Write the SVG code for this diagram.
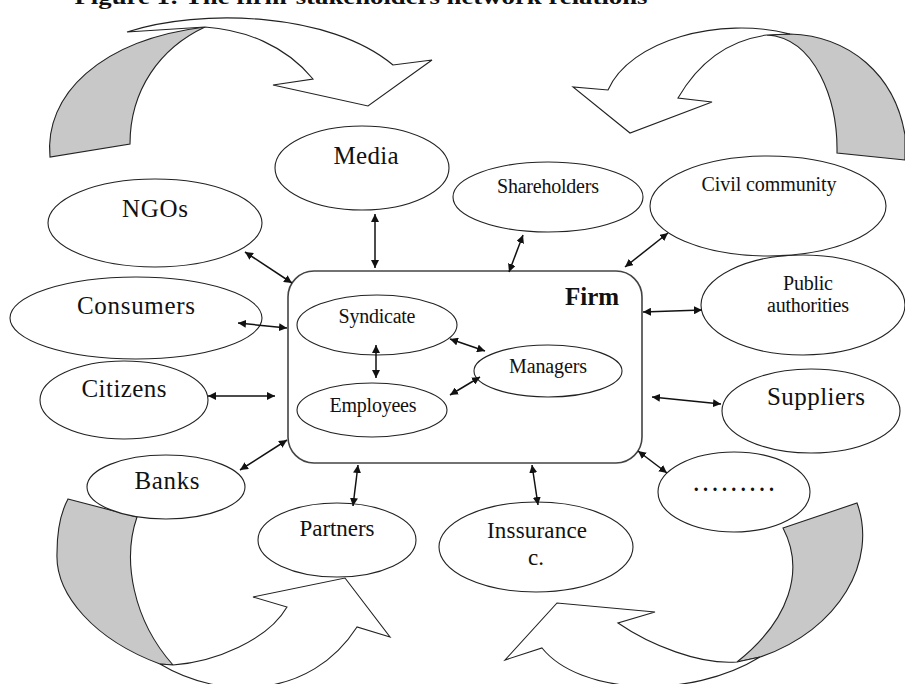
<svg xmlns="http://www.w3.org/2000/svg" width="905" height="684" viewBox="0 0 905 684">
<style>
  .el { fill: #fff; stroke: #222; stroke-width: 1.1; }
  .t { font-family: "Liberation Serif", "Times New Roman", serif; fill: #111; text-anchor: middle; }
  .big { font-size: 25px; }
  .mid { font-size: 23px; }
  .sm { font-size: 20px; }
  .gray { fill: #c8c8c8; stroke: #222; stroke-width: 1.1; }
  .band { fill: #fff; stroke: #222; stroke-width: 1.1; stroke-linejoin: miter; }
  .con line { stroke: #111; stroke-width: 1.5; marker-start: url(#ah); marker-end: url(#ah); }
</style>
<defs>
  <marker id="ah" viewBox="0 0 10 10" refX="10" refY="5" markerWidth="8" markerHeight="8" markerUnits="userSpaceOnUse" orient="auto-start-reverse">
    <path d="M0,0 L10,5 L0,10 Z" fill="#111"/>
  </marker>
</defs>
<rect width="905" height="684" fill="#fff"/>

<text class="t" x="361" y="4" font-size="21" font-weight="bold" textLength="573" lengthAdjust="spacingAndGlyphs">Figure 1: The firm-stakeholders network relations</text>

<!-- curved arrows -->
<g id="arrow-top-left">
  <path class="gray" d="M50,157 C44,95 100,40 205,27 C160,48 130,90 130,144 Z"/>
  <path class="band" d="M127,32 C200,8 330,12 393,65 L432,60 L368,106 L273,85 L313,79 C285,45 245,30 205,27 Z"/>
</g>
<g id="arrow-top-right">
  <path class="gray" d="M767,35 C815,38 838,100 837,153 L905,160 L905,135 C895,75 850,36 790,34 Z"/>
  <path class="band" d="M790,34 C720,16 630,40 608,90 L573,87 L630,133 L712,102 L678,98 C700,60 730,40 767,35 Z"/>
</g>
<g id="arrow-bottom-left">
  <path class="gray" d="M68,499 L137,517 C122,560 133,620 173,665 L160,664 C95,640 55,595 57,553 C57,530 61,512 68,499 Z"/>
  <path class="band" d="M160,664 C220,700 310,700 357,627 L390,637 L345,578 L253,597 L287,607 C268,640 215,662 173,665 Z"/>
</g>
<g id="arrow-bottom-right">
  <path class="gray" d="M783,528 L857,503 C878,560 840,630 760,657 L737,662 C790,620 805,570 783,528 Z"/>
  <path class="band" d="M737,662 C700,665 650,645 618,623 L655,612 L557,603 L505,660 L542,648 C580,695 690,700 760,657 Z"/>
</g>

<!-- firm -->
<g id="firm">
  <rect x="288" y="271" width="354" height="192" rx="26" ry="26" fill="none" stroke="#444" stroke-width="1.6"/>
  <text class="t" x="592" y="305" font-size="25" font-weight="bold">Firm</text>
</g>
<g id="syndicate">
  <ellipse class="el" cx="377" cy="325" rx="80" ry="30"/>
  <text class="t sm" x="377" y="323" textLength="77">Syndicate</text>
</g>
<g id="employees">
  <ellipse class="el" cx="372" cy="410" rx="75" ry="27"/>
  <text class="t sm" x="373" y="412" textLength="87">Employees</text>
</g>
<g id="managers">
  <ellipse class="el" cx="548" cy="371" rx="74" ry="26"/>
  <text class="t sm" x="548" y="373" textLength="78">Managers</text>
</g>

<!-- stakeholders -->
<g id="media">
  <ellipse class="el" cx="362" cy="168" rx="87" ry="42"/>
  <text class="t big" x="366" y="164" textLength="65">Media</text>
</g>
<g id="ngos">
  <ellipse class="el" cx="155" cy="223" rx="107" ry="44"/>
  <text class="t big" x="155" y="217" textLength="66">NGOs</text>
</g>
<g id="consumers">
  <ellipse class="el" cx="136" cy="318" rx="126" ry="41"/>
  <text class="t big" x="136" y="314" textLength="118">Consumers</text>
</g>
<g id="citizens">
  <ellipse class="el" cx="124" cy="400" rx="84" ry="39"/>
  <text class="t big" x="124" y="397" textLength="85">Citizens</text>
</g>
<g id="banks">
  <ellipse class="el" cx="166" cy="487" rx="79" ry="32"/>
  <text class="t big" x="167" y="489" textLength="65">Banks</text>
</g>
<g id="partners">
  <ellipse class="el" cx="337" cy="540" rx="79" ry="37"/>
  <text class="t mid" x="337" y="536" textLength="75">Partners</text>
</g>
<g id="inssurance">
  <ellipse class="el" cx="536" cy="547" rx="97" ry="45"/>
  <text class="t mid" x="537" y="538" textLength="100">Inssurance</text>
  <text class="t mid" x="536" y="565">c.</text>
</g>
<g id="others">
  <ellipse class="el" cx="734" cy="492" rx="76" ry="40"/>
  <text class="t" x="736" y="491" font-size="20" font-weight="bold" letter-spacing="4.4" fill="#1a2a6a">.........</text>
</g>
<g id="suppliers">
  <ellipse class="el" cx="811" cy="411" rx="89" ry="42"/>
  <text class="t big" x="816" y="405" textLength="98">Suppliers</text>
</g>
<g id="public-authorities">
  <ellipse class="el" cx="803" cy="305" rx="102" ry="50"/>
  <text class="t sm" x="808" y="290" textLength="50">Public</text>
  <text class="t sm" x="808" y="312" textLength="82">authorities</text>
</g>
<g id="civil-community">
  <ellipse class="el" cx="768" cy="206" rx="118" ry="50"/>
  <text class="t sm" x="769" y="191" textLength="135">Civil community</text>
</g>
<g id="shareholders">
  <ellipse class="el" cx="548" cy="197" rx="95" ry="35"/>
  <text class="t sm" x="548" y="193" textLength="102">Shareholders</text>
</g>

<!-- connectors -->
<g id="connectors" class="con">
  <line x1="375" y1="214" x2="375" y2="268"/>
  <line x1="245" y1="252" x2="292" y2="283"/>
  <line x1="238" y1="323" x2="287" y2="328"/>
  <line x1="208" y1="396" x2="275" y2="396"/>
  <line x1="240" y1="470" x2="287" y2="440"/>
  <line x1="358" y1="465" x2="353" y2="506"/>
  <line x1="532" y1="465" x2="538" y2="505"/>
  <line x1="638" y1="451" x2="667" y2="473"/>
  <line x1="652" y1="397" x2="721" y2="404"/>
  <line x1="643" y1="312" x2="702" y2="310"/>
  <line x1="625" y1="267" x2="668" y2="233"/>
  <line x1="509" y1="272" x2="523" y2="235"/>
  <line x1="376" y1="345" x2="376" y2="378"/>
  <line x1="450" y1="339" x2="485" y2="351"/>
  <line x1="450" y1="395" x2="480" y2="377"/>
</g>
</svg>
